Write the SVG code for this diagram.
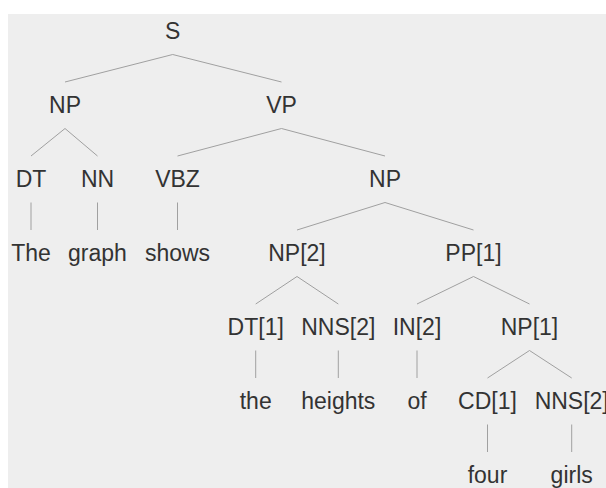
<svg xmlns="http://www.w3.org/2000/svg" width="606" height="488" viewBox="0 0 606 488">
  <style>
    .bg { fill: #eeeeee; }
    .lbl { font-family: "Liberation Sans", Arial, sans-serif; font-size: 23px; fill: #333333; text-anchor: middle; }
    .edge { stroke: #a0a0a0; stroke-width: 1; fill: none; }
  </style>
  <rect x="0" y="0" width="606" height="488" fill="#ffffff"/>
  <rect class="bg" x="8" y="14" width="598" height="474"/>

  <!-- tree edges -->
  <g id="edges">
    <!-- S -->
    <line class="edge" x1="172.7" y1="54.5" x2="65" y2="82"/>
    <line class="edge" x1="172.7" y1="54.5" x2="281.5" y2="82"/>
    <!-- NP (subject) -->
    <line class="edge" x1="65" y1="128.5" x2="31" y2="156"/>
    <line class="edge" x1="65" y1="128.5" x2="97.5" y2="156"/>
    <!-- VP -->
    <line class="edge" x1="281.5" y1="128.5" x2="177.5" y2="156"/>
    <line class="edge" x1="281.5" y1="128.5" x2="385" y2="156"/>
    <!-- preterminals to words -->
    <line class="edge" x1="31" y1="202.5" x2="31" y2="230"/>
    <line class="edge" x1="97.5" y1="202.5" x2="97.5" y2="230"/>
    <line class="edge" x1="177.5" y1="202.5" x2="177.5" y2="230"/>
    <!-- NP (object) -->
    <line class="edge" x1="385" y1="202.5" x2="297" y2="230"/>
    <line class="edge" x1="385" y1="202.5" x2="473.5" y2="230"/>
    <!-- NP[2] -->
    <line class="edge" x1="297" y1="276.5" x2="255.7" y2="304"/>
    <line class="edge" x1="297" y1="276.5" x2="338.3" y2="304"/>
    <!-- PP[1] -->
    <line class="edge" x1="473.5" y1="276.5" x2="417" y2="304"/>
    <line class="edge" x1="473.5" y1="276.5" x2="529.5" y2="304"/>
    <!-- preterminals to words -->
    <line class="edge" x1="255.7" y1="350.5" x2="255.7" y2="378"/>
    <line class="edge" x1="338.3" y1="350.5" x2="338.3" y2="378"/>
    <line class="edge" x1="417" y1="350.5" x2="417" y2="378"/>
    <!-- NP[1] -->
    <line class="edge" x1="529.5" y1="350.5" x2="487.5" y2="378"/>
    <line class="edge" x1="529.5" y1="350.5" x2="571.7" y2="378"/>
    <!-- preterminals to words -->
    <line class="edge" x1="487.5" y1="424.5" x2="487.5" y2="452"/>
    <line class="edge" x1="571.7" y1="424.5" x2="571.7" y2="452"/>
  </g>

  <!-- tree nodes -->
  <g id="n-S"><text class="lbl" x="172.7" y="38.7">S</text></g>
  <g id="n-NP-subj"><text class="lbl" x="65" y="112.7">NP</text></g>
  <g id="n-VP"><text class="lbl" x="281.5" y="112.7">VP</text></g>
  <g id="n-DT"><text class="lbl" x="31" y="186.7">DT</text></g>
  <g id="n-NN"><text class="lbl" x="97.5" y="186.7">NN</text></g>
  <g id="n-VBZ"><text class="lbl" x="177.5" y="186.7">VBZ</text></g>
  <g id="n-NP-obj"><text class="lbl" x="385" y="186.7">NP</text></g>
  <g id="w-The"><text class="lbl" x="31" y="260.7">The</text></g>
  <g id="w-graph"><text class="lbl" x="97.5" y="260.7">graph</text></g>
  <g id="w-shows"><text class="lbl" x="177.5" y="260.7">shows</text></g>
  <g id="n-NP2"><text class="lbl" x="297" y="260.7">NP[2]</text></g>
  <g id="n-PP1"><text class="lbl" x="473.5" y="260.7">PP[1]</text></g>
  <g id="n-DT1"><text class="lbl" x="255.7" y="334.7">DT[1]</text></g>
  <g id="n-NNS2a"><text class="lbl" x="338.3" y="334.7">NNS[2]</text></g>
  <g id="n-IN2"><text class="lbl" x="417" y="334.7">IN[2]</text></g>
  <g id="n-NP1"><text class="lbl" x="529.5" y="334.7">NP[1]</text></g>
  <g id="w-the"><text class="lbl" x="255.7" y="408.7">the</text></g>
  <g id="w-heights"><text class="lbl" x="338.3" y="408.7">heights</text></g>
  <g id="w-of"><text class="lbl" x="417" y="408.7">of</text></g>
  <g id="n-CD1"><text class="lbl" x="487.5" y="408.7">CD[1]</text></g>
  <g id="n-NNS2b"><text class="lbl" x="571.7" y="408.7">NNS[2]</text></g>
  <g id="w-four"><text class="lbl" x="487.5" y="482.7">four</text></g>
  <g id="w-girls"><text class="lbl" x="571.7" y="482.7">girls</text></g>
</svg>
